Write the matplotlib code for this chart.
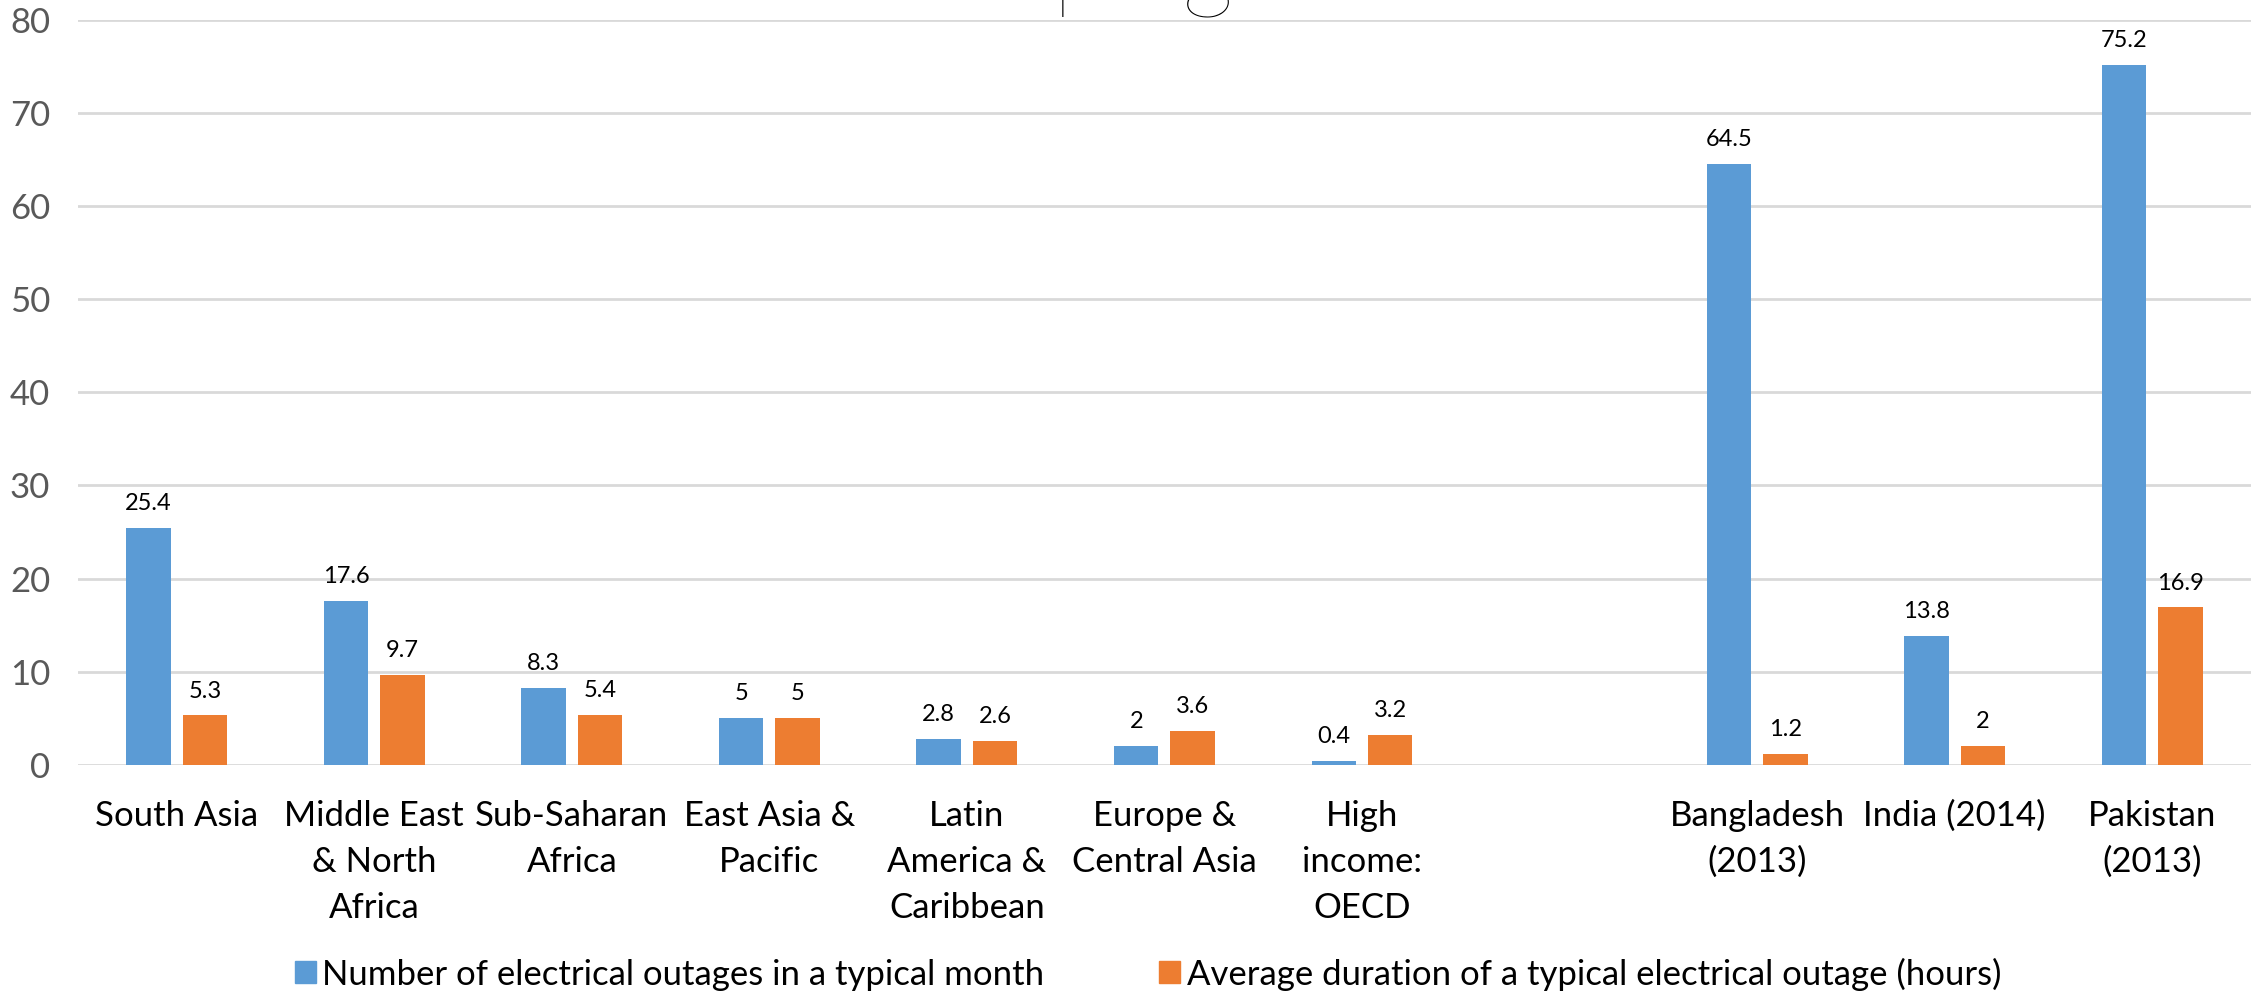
import numpy as np
import matplotlib
matplotlib.use("Agg")
import matplotlib.pyplot as plt
from matplotlib.patches import Patch

# --- Data
categories = [
    "South Asia",
    "Middle East\n& North\nAfrica",
    "Sub-Saharan\nAfrica",
    "East Asia &\nPacific",
    "Latin\nAmerica &\nCaribbean",
    "Europe &\nCentral Asia",
    "High\nincome:\nOECD",
    "",
    "Bangladesh\n(2013)",
    "India (2014)",
    "Pakistan\n(2013)",
]
outages_per_month = [25.4, 17.6, 8.3, 5, 2.8, 2, 0.4, np.nan, 64.5, 13.8, 75.2]
outage_duration_hours = [5.3, 9.7, 5.4, 5, 2.6, 3.6, 3.2, np.nan, 1.2, 2, 16.9]
series_names = [
    "Number of electrical outages in a typical month",
    "Average duration of a typical electrical outage (hours)",
]
y_ticks = [0, 10, 20, 30, 40, 50, 60, 70, 80]

BLUE = "#5B9BD5"
ORANGE = "#ED7D31"
GRID = "#D9D9D9"

plt.rcParams['font.family'] = ['Lato', 'DejaVu Sans']


def value_labels(values):
    """Format values the way the source chart does, blank for missing ones."""
    return ["" if np.isnan(v) else f"{v:g}" for v in values]


fig = plt.figure(figsize=(22.6, 9.92), dpi=100)
ax = fig.add_axes([0.0345, 0.229, 0.9615, 0.751])

x = np.arange(len(categories))
width = 0.225
offset = 0.143

bars_a = ax.bar(x - offset, outages_per_month, width, color=BLUE, zorder=3)
bars_b = ax.bar(x + offset, outage_duration_hours, width, color=ORANGE, zorder=3)

# Data labels above each bar
ax.bar_label(bars_a, labels=value_labels(outages_per_month), padding=10, fontsize=17, color="black")
ax.bar_label(bars_b, labels=value_labels(outage_duration_hours), padding=10, fontsize=17, color="black")

# Axes styling
ax.set_xlim(-0.5, len(categories) - 0.5)
ax.set_ylim(0, 80)
ax.set_yticks(y_ticks)
ax.set_xticks(x)
ax.set_xticklabels(categories, fontsize=25, linespacing=1.55)
ax.tick_params(axis="x", length=0, pad=25, colors="black")
ax.tick_params(axis="y", length=0, pad=20, labelsize=25, labelcolor="#595959")
ax.yaxis.grid(True, color=GRID, linewidth=2, zorder=0)
for side in ["top", "right", "left", "bottom"]:
    ax.spines[side].set_visible(False)

# Title sits mostly above the figure: only descenders show
fig.text(0.5456, 1.0, "Developing", fontsize=72, fontweight="light",
         ha="right", va="baseline", color="black")

# Legend at the bottom
handles = [Patch(color=BLUE), Patch(color=ORANGE)]
fig.legend(handles, series_names, loc="lower center", bbox_to_anchor=(0.508, -0.03),
           ncol=2, frameon=False, fontsize=25, handlelength=0.6, handleheight=0.6,
           handletextpad=0.2, columnspacing=3.3)

fig.savefig("out.png", dpi=100)
